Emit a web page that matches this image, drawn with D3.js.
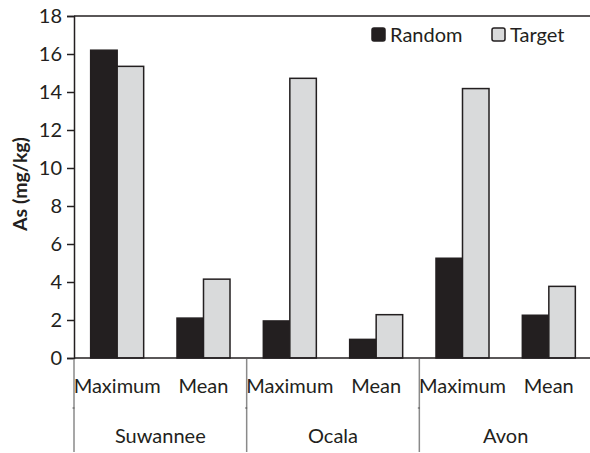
<!DOCTYPE html>
<html>
<head>
<meta charset="utf-8">
<script src="https://cdn.jsdelivr.net/npm/d3@7"></script>
<style>
  body { margin: 0; background: #fff; }
  text { font-family: Lato, sans-serif; fill: #231f20; }
</style>
</head>
<body>
<svg id="chart"></svg>
<script>
const sites = ['Suwannee', 'Ocala', 'Avon']
const stats = ['Maximum', 'Mean']
const series = ['Random', 'Target']
const randomValues = [16.2, 2.1, 1.95, 0.98, 5.25, 2.25]
const targetValues = [15.35, 4.15, 14.72, 2.28, 14.18, 3.77]
const yTicks = [0, 2, 4, 6, 8, 10, 12, 14, 16, 18]

const colors = { Random: '#231f20', Target: '#d9dadb' }
const ink = '#231f20'

const outerWidth = 590
const outerHeight = 453
const margin = { top: 16, right: -2, bottom: 95, left: 74 }
const width = outerWidth - margin.left - margin.right
const height = outerHeight - margin.top - margin.bottom

// one entry per site/stat pair
const groups = []
sites.forEach(site => stats.forEach(stat => groups.push({ site, stat, key: site + '|' + stat })))
groups.forEach((g, i) => {
  g.values = [
    { series: 'Random', value: randomValues[i] },
    { series: 'Target', value: targetValues[i] },
  ]
})

const svg = d3.select('#chart')
  .attr('width', outerWidth)
  .attr('height', outerHeight)

const g = svg.append('g')
  .attr('transform', `translate(${margin.left},${margin.top})`)

const x0 = d3.scaleBand()
  .domain(groups.map(d => d.key))
  .range([0, width])
  .paddingInner(0.386)
  .paddingOuter(0.193)

const x1 = d3.scaleBand()
  .domain(series)
  .range([0, x0.bandwidth()])

const siteScale = d3.scaleBand()
  .domain(sites)
  .range([0, width])

const yScale = d3.scaleLinear()
  .domain([0, 18])
  .range([height, 0])

// bars
g.append('g').selectAll('g')
  .data(groups)
  .join('g')
  .attr('transform', d => `translate(${x0(d.key)},0)`)
  .selectAll('rect')
  .data(d => d.values)
  .join('rect')
  .attr('x', d => x1(d.series))
  .attr('y', d => yScale(d.value))
  .attr('width', x1.bandwidth())
  .attr('height', d => yScale(0) - yScale(d.value))
  .attr('fill', d => colors[d.series])
  .attr('stroke', ink)
  .attr('stroke-width', 1.5)

// y axis
const yAxis = d3.axisLeft(yScale)
  .tickValues(yTicks)
  .tickSize(7)
  .tickPadding(5)
const yAxisGroup = g.append('g').call(yAxis)
yAxisGroup.select('.domain').attr('stroke', ink).attr('stroke-width', 1.5)
yAxisGroup.selectAll('.tick line').attr('stroke', ink).attr('stroke-width', 1.5)
yAxisGroup.selectAll('.tick text')
  .attr('font-size', '20px')
  .attr('font-family', 'Lato, sans-serif')
  .attr('fill', ink)

// top frame line and zero line
g.append('line')
  .attr('x1', 0).attr('x2', width)
  .attr('y1', yScale(18)).attr('y2', yScale(18))
  .attr('stroke', ink).attr('stroke-width', 1.5)
g.append('line')
  .attr('x1', 0).attr('x2', width)
  .attr('y1', yScale(0)).attr('y2', yScale(0))
  .attr('stroke', ink).attr('stroke-width', 1.5)

// category separators below the plot
const sepBottom = outerHeight - margin.top - 1
g.append('g').selectAll('line')
  .data(sites)
  .join('line')
  .attr('x1', d => siteScale(d))
  .attr('x2', d => siteScale(d))
  .attr('y1', yScale(0) + 1)
  .attr('y2', sepBottom)
  .attr('stroke', '#8a8a8a')
  .attr('stroke-width', 1.5)
g.append('g').selectAll('line')
  .data(sites)
  .join('line')
  .attr('x1', d => siteScale(d) - 1.5)
  .attr('x2', d => siteScale(d) + 0.5)
  .attr('y1', yScale(0) + 50)
  .attr('y2', yScale(0) + 50)
  .attr('stroke', '#555')
  .attr('stroke-width', 1)

// stat labels
g.append('g').selectAll('text')
  .data(groups)
  .join('text')
  .attr('x', d => x0(d.key) + x0.bandwidth() / 2)
  .attr('y', yScale(0) + 35)
  .attr('text-anchor', 'middle')
  .attr('font-size', '20px')
  .text(d => d.stat)

// site labels
g.append('g').selectAll('text')
  .data(sites)
  .join('text')
  .attr('x', d => siteScale(d) + siteScale.bandwidth() / 2)
  .attr('y', yScale(0) + 85)
  .attr('text-anchor', 'middle')
  .attr('font-size', '20px')
  .text(d => d)

// y axis title
svg.append('text')
  .attr('transform', `translate(27,${margin.top + height / 2 - 3}) rotate(-90)`)
  .attr('text-anchor', 'middle')
  .attr('font-size', '19.5px')
  .attr('font-weight', 'bold')
  .text('As (mg/kg)')

// legend
const legendX = [372, 492]
const legend = svg.append('g').selectAll('g')
  .data(series)
  .join('g')
  .attr('transform', (d, i) => `translate(${legendX[i]},28)`)
legend.append('rect')
  .attr('width', 13)
  .attr('height', 13)
  .attr('rx', 2)
  .attr('fill', d => colors[d])
  .attr('stroke', ink)
  .attr('stroke-width', 1.5)
legend.append('text')
  .attr('x', 18)
  .attr('y', 13.5)
  .attr('font-size', '20px')
  .text(d => d)
</script>
</body>
</html>
